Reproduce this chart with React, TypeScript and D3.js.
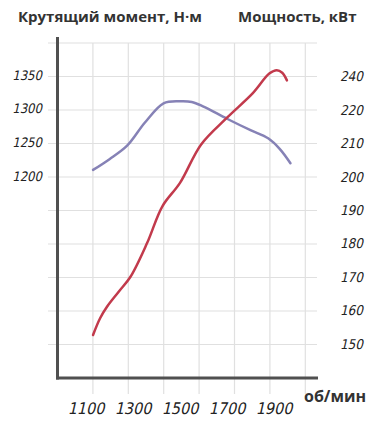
import React from 'react';
import * as d3 from 'd3';

// rpm / torque (Н·м) / power (кВт)
const torqueRpm = [1130, 1200, 1275, 1350, 1430, 1500, 1550, 1600, 1700, 1800, 1875, 1925, 1970];
const torqueVal = [1212, 1228, 1248, 1282, 1311, 1314, 1313, 1306, 1288, 1271, 1259, 1243, 1222];

const powerRpm = [1130, 1160, 1190, 1240, 1290, 1360, 1425, 1500, 1590, 1700, 1810, 1880, 1912, 1935, 1955];
const powerVal = [153, 158, 161.5, 166, 170.5, 180.5, 191.5, 198.5, 210, 218, 230.5, 242, 244, 242.5, 238];

const rpmTicks = [1100, 1300, 1500, 1700, 1900];
const torqueTicks = [1350, 1300, 1250, 1200];
const powerTicks = [240, 220, 210, 200, 190, 180, 170, 160, 150];

const W = 390;
const H = 434;

const App = () => {
  const x = d3.scaleLinear().domain([1100, 1900]).range([86, 274]);
  const yT = d3.scaleLinear().domain([1200, 1350]).range([178, 77]);
  // the right axis of the original is not uniform above 220
  const yP = d3.scaleLinear().domain([150, 220, 240]).range([345, 111, 77]);

  // background grid (not data)
  const gx = d3.scaleLinear().domain([0, 7]).range([57.5, 305.3]);
  const gy = d3.scaleLinear().domain([0, 10]).range([43, 378]);
  const gridCols = d3.range(1, 8);
  const gridRows = d3.range(0, 10);

  const tLine = d3.line<number>()
    .x((d, i) => x(torqueRpm[i]))
    .y(d => yT(d))
    .curve(d3.curveCatmullRom.alpha(0.5));

  const pLine = d3.line<number>()
    .x((d, i) => x(powerRpm[i]))
    .y(d => yP(d))
    .curve(d3.curveCatmullRom.alpha(0.5));

  const tickFont = '"Liberation Sans Narrow", "DejaVu Sans Condensed", "Liberation Sans", sans-serif';
  const titleFont = '"Open Sans", "Noto Sans", sans-serif';
  const slant = (tx: number, ty: number) => `translate(${tx},${ty}) skewX(-13)`;

  return (
    <svg width={W} height={H} style={{ position: 'absolute', left: 0, top: 0, background: '#fff' }}>
      <g stroke="#e0e0e0" strokeWidth={1.2}>
        {gridRows.map(r => (
          <line key={'r' + r} x1={48} x2={317} y1={gy(r)} y2={gy(r)} />
        ))}
        {gridCols.map(c => (
          <line key={'c' + c} x1={gx(c)} x2={gx(c)} y1={43} y2={394} />
        ))}
      </g>

      <path d={tLine(torqueVal) || ''} fill="none" stroke="#8682b6" strokeWidth={2.5} strokeLinecap="round" />
      <path d={pLine(powerVal) || ''} fill="none" stroke="#c23a4c" strokeWidth={2.5} strokeLinecap="round" />

      <line x1={57.5} x2={57.5} y1={37} y2={379.5} stroke="#505050" strokeWidth={3} />
      <line x1={56} x2={318} y1={378} y2={378} stroke="#505050" strokeWidth={3} />

      <g fontFamily={tickFont} fill="#222">
        {torqueTicks.map(t => (
          <text key={t} transform={slant(43, yT(t) - 2)} dy="0.35em" textAnchor="end" fontSize={13}>{t}</text>
        ))}
        {powerTicks.map(t => (
          <text key={t} transform={slant(341, yP(t) - 1)} dy="0.35em" fontSize={13.5}>{t}</text>
        ))}
        {rpmTicks.map(t => (
          <text key={t} transform={slant(x(t), 414)} textAnchor="middle" fontSize={16}>{t}</text>
        ))}
      </g>

      <g fontFamily={titleFont} fontWeight="bold" fill="#333">
        <text x={18} y={22} fontSize={15}>Крутящий момент, Н·м</text>
        <text x={238} y={22} fontSize={15}>Мощность, кВт</text>
        <text x={304} y={402} fontSize={16}>об/мин</text>
      </g>
    </svg>
  );
};

export default App;
